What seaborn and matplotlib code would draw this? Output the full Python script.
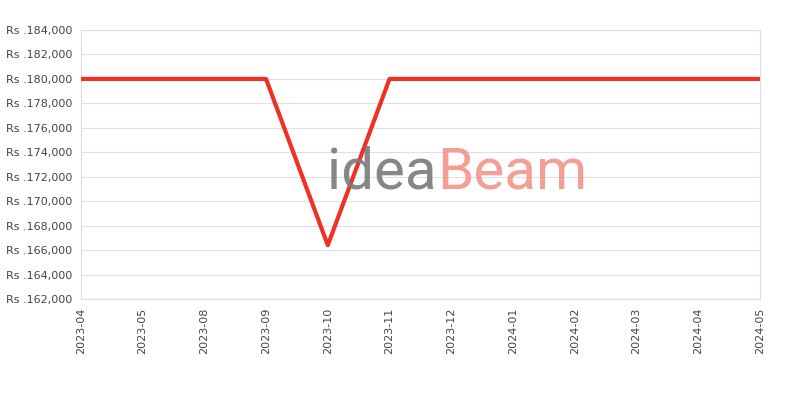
import pandas as pd
import numpy as np
import matplotlib.pyplot as plt
import seaborn as sns
from matplotlib.ticker import FuncFormatter

months = ["2023-04", "2023-05", "2023-08", "2023-09", "2023-10", "2023-11",
          "2023-12", "2024-01", "2024-02", "2024-03", "2024-04", "2024-05"]
prices = [179999, 179999, 179999, 179999, 166399, 179999,
          179999, 179999, 179999, 179999, 179999, 179999]

df = pd.DataFrame({"month": months, "price": prices})
df["pos"] = range(len(df))

sns.set_style("white")
plt.rcParams['font.family'] = ['DejaVu Sans']

fig = plt.figure(figsize=(8, 4), dpi=100)
ax = fig.add_axes([0.101, 0.2525, 0.849, 0.6725])

# watermark
fig.text(0.546, 0.528, "idea", fontsize=42, color="#7a7a7a", alpha=0.9,
         family="Roboto", ha="right", va="baseline", zorder=0)
fig.text(0.546, 0.528, "Beam", fontsize=42, color="#f4948a", alpha=0.9,
         family="Roboto", ha="left", va="baseline", zorder=0)

sns.lineplot(data=df, x="pos", y="price", ax=ax, color="#ee3124",
             linewidth=3, zorder=3)

ax.set_xlim(0, len(months) - 1)
ax.set_ylim(162000, 184000)
ax.set_yticks(np.arange(162000, 184001, 2000))
ax.yaxis.set_major_formatter(FuncFormatter(lambda v, p: "Rs ." + format(int(v), ",")))
ax.set_xticks(df["pos"])
ax.set_xticklabels(months, rotation=90)
ax.tick_params(axis="both", labelsize=8, colors="#444444", length=0, pad=6)
ax.grid(axis="y", color="#e0e0e0", linewidth=0.8)
ax.set_axisbelow(True)
ax.patch.set_alpha(0)
for s in ax.spines.values():
    s.set_color("#dddddd")
    s.set_linewidth(0.8)
ax.set_xlabel("")
ax.set_ylabel("")

plt.savefig("out.png", dpi=100)
